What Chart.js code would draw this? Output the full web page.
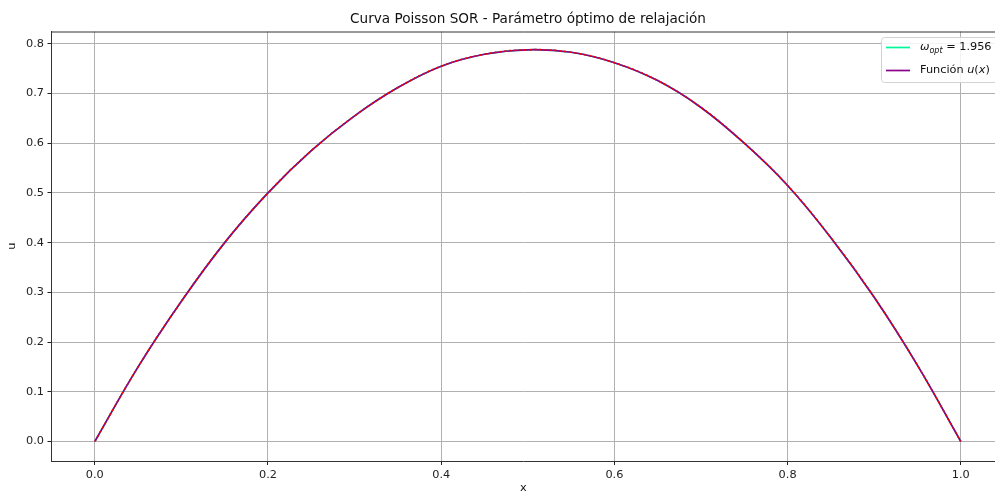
<!DOCTYPE html>
<html>
<head>
<meta charset="utf-8">
<script src="https://cdn.jsdelivr.net/npm/chart.js@4"></script>
<style>
  html, body { margin: 0; padding: 0; background: #fff; }
  #wrap { width: 995px; height: 495px; }
</style>
</head>
<body>
<div id="wrap"><canvas id="chart" width="995" height="495"></canvas></div>
<script>
// valores
const xValues = [0, 0.05, 0.1, 0.15, 0.2, 0.25, 0.3, 0.35, 0.4, 0.45, 0.5,
                 0.55, 0.6, 0.65, 0.7, 0.75, 0.8, 0.85, 0.9, 0.95, 1.0];
const uSor = [0, 0.150, 0.282, 0.400, 0.500, 0.585, 0.655, 0.712, 0.755, 0.779, 0.788,
              0.783, 0.762, 0.726, 0.672, 0.600, 0.515, 0.410, 0.290, 0.153, 0];
const uExact = [0, 0.150, 0.282, 0.400, 0.500, 0.585, 0.655, 0.712, 0.755, 0.779, 0.788,
                0.783, 0.762, 0.726, 0.672, 0.600, 0.515, 0.410, 0.290, 0.153, 0];
const xTicks = [0, 0.2, 0.4, 0.6, 0.8, 1.0];
const yTicks = [0, 0.1, 0.2, 0.3, 0.4, 0.5, 0.6, 0.7, 0.8];

const FONT = 'DejaVu Sans';
const toPoints = (ys) => xValues.map((x, i) => ({ x: x, y: ys[i] }));

// titulo, borde superior y leyenda
const extras = {
  id: 'extras',
  afterDraw(chart) {
    const ctx = chart.ctx;
    const a = chart.chartArea;
    ctx.save();
    ctx.strokeStyle = '#333';
    ctx.lineWidth = 1;
    ctx.beginPath();
    ctx.moveTo(a.left, a.top + 0.5);
    ctx.lineTo(a.right, a.top + 0.5);
    ctx.stroke();

    ctx.fillStyle = '#111';
    ctx.font = '13.6px "' + FONT + '"';
    ctx.textAlign = 'center';
    ctx.textBaseline = 'middle';
    ctx.fillText('Curva Poisson SOR - Parámetro óptimo de relajación', 528, 19);

    // leyenda
    const bx = 881.5, by = 37.5, bw = 125, bh = 45, r = 3;
    ctx.fillStyle = 'rgba(255,255,255,0.85)';
    ctx.strokeStyle = '#d3d3d3';
    ctx.beginPath();
    ctx.roundRect(bx, by, bw, bh, r);
    ctx.fill();
    ctx.stroke();

    const ds = chart.data.datasets;
    const rows = [
      { color: ds[2].borderColor, y: 47.5, parts: [
        ['ω', 'italic 11.3px', 0], ['opt', 'italic 8px', 3], [' = 1.956', '11.3px', 0]] },
      { color: ds[1].borderColor, y: 70.5, parts: [
        ['Función ', '11.3px', 0], ['u', 'italic 11.3px', 0], ['(', '11.3px', 0],
        ['x', 'italic 11.3px', 0], [')', '11.3px', 0]] }
    ];
    ctx.textAlign = 'left';
    ctx.textBaseline = 'middle';
    rows.forEach(row => {
      ctx.strokeStyle = row.color;
      ctx.lineWidth = 1.7;
      ctx.beginPath();
      ctx.moveTo(886, row.y);
      ctx.lineTo(910, row.y);
      ctx.stroke();
      let tx = 920;
      ctx.fillStyle = '#111';
      row.parts.forEach(p => {
        ctx.font = p[1] + ' "' + FONT + '"';
        ctx.fillText(p[0], tx, row.y + p[2]);
        tx += ctx.measureText(p[0]).width;
      });
    });
    ctx.restore();
  }
};

const tickFont = { family: FONT, size: 11.3 };

new Chart(document.getElementById('chart'), {
  type: 'line',
  data: {
    datasets: [
      {
        label: '_aprox',
        data: toPoints(uSor),
        borderColor: '#ff0000',
        borderWidth: 1.6,
        borderDash: [2, 3],
        pointRadius: 0,
        tension: 0.4,
        order: 0
      },
      {
        label: 'Función u(x)',
        data: toPoints(uExact),
        borderColor: '#8b008b',
        borderWidth: 1.7,
        pointRadius: 0,
        tension: 0.4,
        order: 1
      },
      {
        label: 'ω_opt = 1.956',
        data: toPoints(uSor),
        borderColor: '#00fa9a',
        borderWidth: 1.7,
        pointRadius: 0,
        tension: 0.4,
        order: 2
      }
    ]
  },
  options: {
    responsive: false,
    animation: false,
    layout: { padding: { top: 31.5, left: 0, right: 0, bottom: 0 } },
    plugins: {
      legend: { display: false },
      tooltip: { enabled: false }
    },
    scales: {
      x: {
        type: 'linear',
        min: -0.05,
        max: 1.0395,
        afterFit: (s) => { s.height = 34; },
        afterBuildTicks: (s) => { s.ticks = xTicks.map(v => ({ value: v })); },
        ticks: {
          font: tickFont,
          color: '#222',
          padding: 3,
          maxRotation: 0,
          callback: (v) => v.toFixed(1)
        },
        grid: { color: '#b0b0b0', lineWidth: 1, tickColor: '#222', tickLength: 4, tickWidth: 1 },
        border: { color: '#333', width: 1 },
        title: { display: true, text: 'x', font: { family: FONT, size: 11.3, lineHeight: 1 }, color: '#111', padding: { top: 0, bottom: 1 } }
      },
      y: {
        type: 'linear',
        min: -0.0393,
        max: 0.8248,
        afterFit: (s) => { s.width = 51.5; },
        afterBuildTicks: (s) => { s.ticks = yTicks.map(v => ({ value: v })); },
        ticks: {
          font: tickFont,
          color: '#222',
          padding: 3.5,
          callback: (v) => v.toFixed(1)
        },
        grid: { color: '#b0b0b0', lineWidth: 1, tickColor: '#222', tickLength: 4, tickWidth: 1 },
        border: { color: '#333', width: 1 },
        title: { display: true, text: 'u', font: { family: FONT, size: 11.3, lineHeight: 1 }, color: '#111', padding: { top: 6, bottom: 0 } }
      }
    }
  },
  plugins: [extras]
});
</script>
</body>
</html>
